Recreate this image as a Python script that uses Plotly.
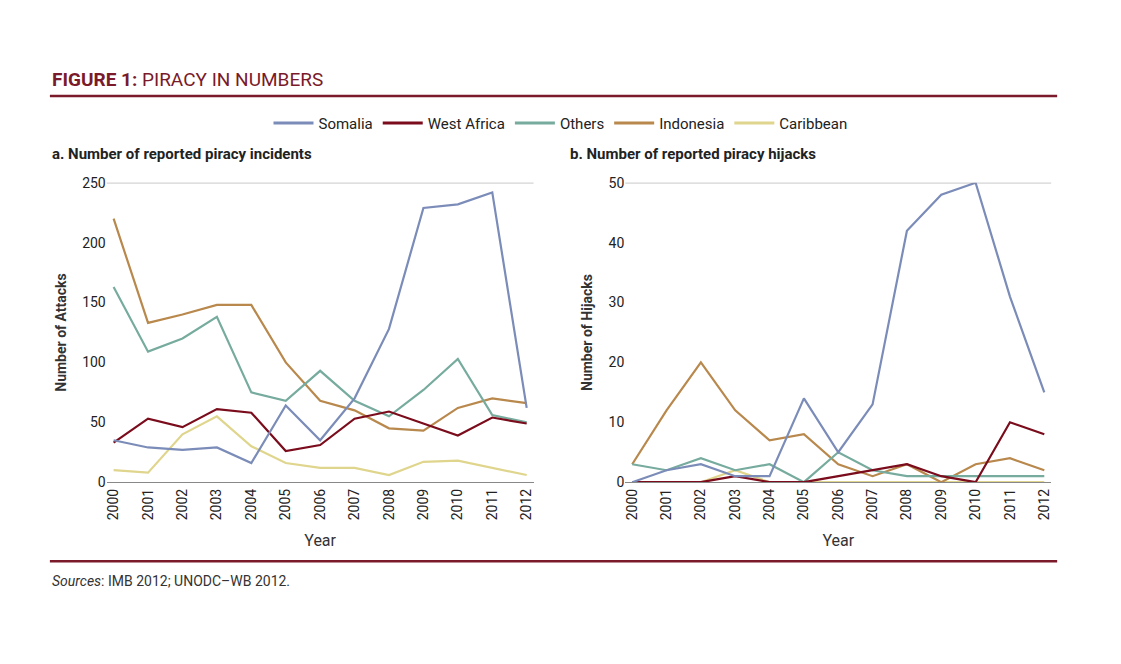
import plotly.graph_objects as go

years = [str(y) for y in range(2000, 2013)]
series = ["Somalia", "West Africa", "Others", "Indonesia", "Caribbean"]
colors = ["#7b8cb8", "#7a0c1c", "#76ab9e", "#b8884c", "#e0d58c"]

attacks_somalia = [35, 29, 27, 29, 16, 64, 35, 70, 128, 229, 232, 242, 62]
attacks_wafrica = [33, 53, 46, 61, 58, 26, 31, 53, 59, 49, 39, 54, 49]
attacks_others = [163, 109, 120, 138, 75, 68, 93, 68, 55, 77, 103, 56, 50]
attacks_indonesia = [220, 133, 140, 148, 148, 100, 68, 60, 45, 43, 62, 70, 66]
attacks_caribbean = [10, 8, 40, 55, 30, 16, 12, 12, 6, 17, 18, 12, 6]

hij_somalia = [0, 2, 3, 1, 1, 14, 5, 13, 42, 48, 50, 31, 15]
hij_wafrica = [0, 0, 0, 1, 0, 0, 1, 2, 3, 1, 0, 10, 8]
hij_others = [3, 2, 4, 2, 3, 0, 5, 2, 1, 1, 1, 1, 1]
hij_indonesia = [3, 12, 20, 12, 7, 8, 3, 1, 3, 0, 3, 4, 2]
hij_caribbean = [0, 0, 0, 2, 0, 0, 0, 0, 0, 0, 0, 0, 0]

attacks = [attacks_somalia, attacks_wafrica, attacks_others, attacks_indonesia, attacks_caribbean]
hijacks = [hij_somalia, hij_wafrica, hij_others, hij_indonesia, hij_caribbean]

FONT = "Liberation Sans Narrow, Roboto, sans-serif"
RED = "#7a1a2a"

fig = go.Figure()
order = [4, 3, 2, 1, 0]
for i in order:
    fig.add_trace(go.Scatter(x=years, y=attacks[i], mode="lines", name=series[i],
                             line=dict(color=colors[i], width=2.2), xaxis="x", yaxis="y",
                             showlegend=False))
    fig.add_trace(go.Scatter(x=years, y=hijacks[i], mode="lines", name=series[i],
                             line=dict(color=colors[i], width=2.2), xaxis="x2", yaxis="y2",
                             showlegend=False))
for i in range(5):
    fig.add_trace(go.Scatter(x=[None], y=[None], mode="lines", name=series[i],
                             line=dict(color=colors[i], width=3), xaxis="x", yaxis="y"))

W, H = 1105, 648
OFF = 8
def fx(px): return (px - OFF) / W
def fy(py): return 1 - (py - OFF) / H

axcommon = dict(showgrid=False, showline=True, linecolor="#888", linewidth=1,
                tickangle=-90, ticks="", tickfont=dict(size=14, color="#222", family=FONT),
                title=dict(text="Year", font=dict(size=16, color="#333", family=FONT)))
aycommon = dict(showgrid=False, showline=False, zeroline=False, ticks="",
                tickfont=dict(size=14, color="#222", family=FONT))

fig.update_layout(
    width=W, height=H, margin=dict(l=0, r=0, t=0, b=0),
    paper_bgcolor="white", plot_bgcolor="white",
    font=dict(family=FONT),
    xaxis=dict(domain=[fx(105), fx(533)], anchor="y", range=[-0.2, 12.2], **axcommon),
    yaxis=dict(domain=[fy(486), fy(179)], anchor="x", range=[0, 250], tickvals=[0, 50, 100, 150, 200, 250],
               title=dict(text="<b>Number of Attacks</b>", font=dict(size=14, color="#333", family=FONT), standoff=12),
               **aycommon),
    xaxis2=dict(domain=[fx(625), fx(1052)], anchor="y2", range=[-0.2, 12.2], **axcommon),
    yaxis2=dict(domain=[fy(486), fy(179)], anchor="x2", range=[0, 50], tickvals=[0, 10, 20, 30, 40, 50],
                title=dict(text="<b>Number of Hijacks</b>", font=dict(size=14, color="#333", family=FONT), standoff=12),
                **aycommon),
    legend=dict(orientation="h", x=fx(560), xanchor="center", y=fy(101), yanchor="top",
                font=dict(size=15, color="#222", family=FONT), itemwidth=40),
    shapes=[
        dict(type="line", xref="paper", yref="paper", x0=fx(48), x1=fx(1058), y0=fy(90), y1=fy(90),
             line=dict(color=RED, width=2.5)),
        dict(type="line", xref="paper", yref="paper", x0=fx(48), x1=fx(1058), y0=fy(567), y1=fy(567),
             line=dict(color=RED, width=2.5)),
        dict(type="line", xref="x domain", yref="y", x0=0, x1=1, y0=250, y1=250, line=dict(color="#888", width=1)),
        dict(type="line", xref="x2 domain", yref="y2", x0=0, x1=1, y0=50, y1=50, line=dict(color="#888", width=1)),
    ],
    annotations=[
        dict(text="<b>FIGURE 1:</b> PIRACY IN NUMBERS", x=fx(48), y=fy(73), xref="paper", yref="paper",
             xanchor="left", yanchor="middle", showarrow=False, font=dict(size=19, color=RED, family=FONT)),
        dict(text="<b>a. Number of reported piracy incidents</b>", x=fx(48), y=fy(150), xref="paper", yref="paper",
             xanchor="left", yanchor="middle", showarrow=False, font=dict(size=15, color="#222", family=FONT)),
        dict(text="<b>b. Number of reported piracy hijacks</b>", x=fx(568), y=fy(150), xref="paper", yref="paper",
             xanchor="left", yanchor="middle", showarrow=False, font=dict(size=15, color="#222", family=FONT)),
        dict(text="<i>Sources</i>: IMB 2012; UNODC–WB 2012.", x=fx(48), y=fy(587), xref="paper", yref="paper",
             xanchor="left", yanchor="middle", showarrow=False, font=dict(size=14, color="#333", family=FONT)),
    ],
)

fig.write_html("out.html")
